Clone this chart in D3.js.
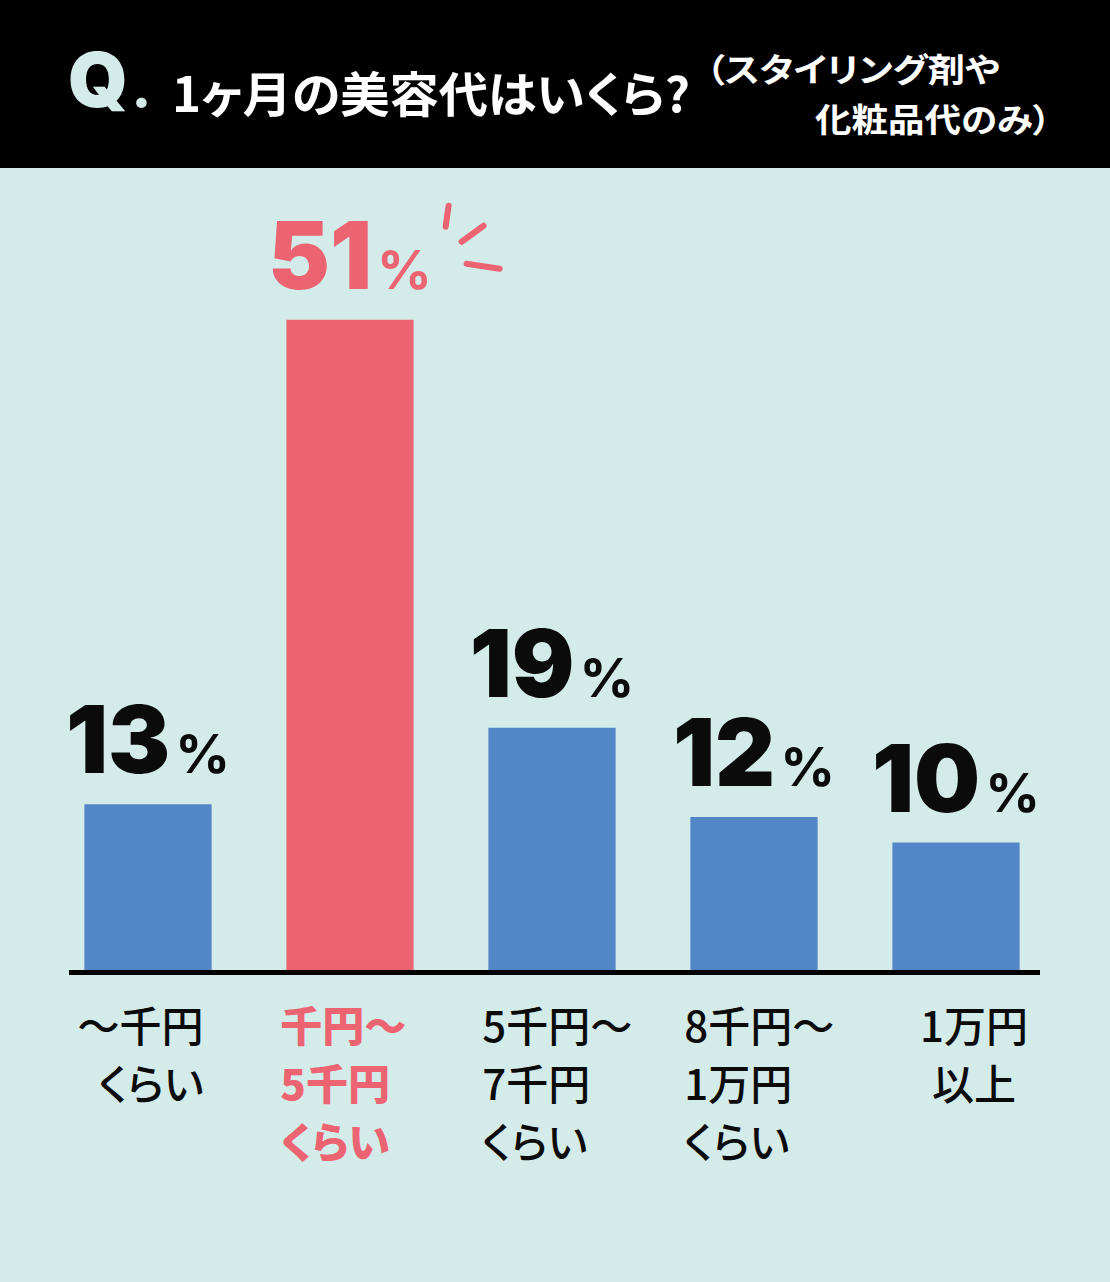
<!DOCTYPE html>
<html lang="ja">
<head>
<meta charset="utf-8">
<title>1ヶ月の美容代はいくら？</title>
<script src="https://cdn.jsdelivr.net/npm/d3@7/dist/d3.min.js"></script>
<style>
  html, body { margin: 0; padding: 0; background: #d4ece9; }
  svg { display: block; }
  .jp { font-family: "Noto Sans CJK JP", "Noto Sans", sans-serif; font-feature-settings: "palt"; }
  .num { font-family: Inter, Roboto, "DejaVu Sans", sans-serif; }
</style>
</head>
<body>
<div id="chart"></div>
<script>
// ---------- data ----------
const TITLE = "1ヶ月の美容代はいくら?";
const SUBTITLE = ["（スタイリング剤や", "化粧品代のみ）"];
const CATEGORIES = ["〜千円くらい", "千円〜5千円くらい", "5千円〜7千円くらい", "8千円〜1万円くらい", "1万円以上"];
const CATEGORY_LINES = [
  ["〜千円", "くらい"],
  ["千円〜", "5千円", "くらい"],
  ["5千円〜", "7千円", "くらい"],
  ["8千円〜", "1万円", "くらい"],
  ["1万円", "以上"],
];
const VALUES = [13, 51, 19, 12, 10];

// ---------- layout ----------
const W = 1110, H = 1282;
const HEADER_H = 168;
const BASE_Y = 970;
const COL = { bg: "#d4ece9", blue: "#5386c6", pink: "#ec6472", ink: "#0b0b0b", mint: "#d4ece9" };

const data = CATEGORIES.map((c, i) => ({ cat: c, lines: CATEGORY_LINES[i], v: VALUES[i] }));
const maxV = d3.max(VALUES);
const isHi = d => d.v === maxV;

const svg = d3.select("#chart").append("svg").attr("width", W).attr("height", H).attr("viewBox", `0 0 ${W} ${H}`);
svg.append("rect").attr("width", W).attr("height", H).attr("fill", COL.bg);

// ---------- header ----------
svg.append("rect").attr("width", W).attr("height", HEADER_H).attr("fill", "#000");
const q = svg.append("text").attr("class", "num").attr("x", 68).attr("y", 107)
  .attr("fill", COL.mint).attr("font-weight", 900);
q.append("tspan").attr("font-size", 76).text("Q");
q.append("tspan").attr("font-size", 52).attr("dx", 4).text(".");

svg.append("text").attr("class", "jp").attr("x", 172).attr("y", 112)
  .attr("fill", "#fff").attr("font-size", 48).attr("font-weight", 700)
  .attr("textLength", 518).attr("lengthAdjust", "spacingAndGlyphs")
  .text(TITLE);

svg.append("text").attr("class", "jp").attr("x", 706).attr("y", 82)
  .attr("fill", "#fff").attr("font-size", 33).attr("font-weight", 700)
  .attr("textLength", 294).attr("lengthAdjust", "spacingAndGlyphs")
  .text(SUBTITLE[0]);
svg.append("text").attr("class", "jp").attr("x", 815).attr("y", 132)
  .attr("fill", "#fff").attr("font-size", 33).attr("font-weight", 700)
  .attr("textLength", 236).attr("lengthAdjust", "spacingAndGlyphs")
  .text(SUBTITLE[1]);

// ---------- scales ----------
const x = d3.scaleBand().domain(CATEGORIES).range([47, 1057]).paddingInner(0.37).paddingOuter(0.185);
const y = d3.scaleLinear().domain([0, 100]).range([BASE_Y, BASE_Y - 1275]);

// ---------- bars ----------
svg.selectAll("rect.bar").data(data).join("rect").attr("class", "bar")
  .attr("x", d => x(d.cat)).attr("width", x.bandwidth())
  .attr("y", d => y(d.v)).attr("height", d => y(0) - y(d.v))
  .attr("fill", d => isHi(d) ? COL.pink : COL.blue);

// baseline
svg.append("line").attr("x1", 69).attr("x2", 1040).attr("y1", BASE_Y + 2.5).attr("y2", BASE_Y + 2.5)
  .attr("stroke", "#000").attr("stroke-width", 5);

// ---------- value labels ----------
const vl = svg.selectAll("text.val").data(data).join("text").attr("class", "val num")
  .attr("x", d => x(d.cat) + x.bandwidth() / 2).attr("y", d => y(d.v) - 31)
  .attr("text-anchor", "middle")
  .attr("fill", d => isHi(d) ? COL.pink : COL.ink);
vl.append("tspan").attr("font-size", 93).attr("font-weight", 900).attr("letter-spacing", 0).text(d => d.v);
vl.append("tspan").attr("font-size", 54).attr("font-weight", 700).attr("dx", 5).text("%");

// burst next to the top value
const hi = data.find(isHi);
const bx = x(hi.cat) + x.bandwidth(), by = y(hi.v);
[[32, -93, 35, -114], [48, -78, 70, -94], [53, -56, 86, -51]].forEach(([a, b, c, e]) => {
  svg.append("line").attr("x1", bx + a).attr("y1", by + b).attr("x2", bx + c).attr("y2", by + e)
    .attr("stroke", COL.pink).attr("stroke-width", 6).attr("stroke-linecap", "round");
});

// ---------- category labels ----------
const ANCHOR = ["end", "start", "start", "start", "middle"];
const labelX = (d, i) => ANCHOR[i] === "end" ? x(d.cat) + x.bandwidth() - 8
  : ANCHOR[i] === "start" ? x(d.cat) - 6 : x(d.cat) + x.bandwidth() / 2 + 18;
const cl = svg.selectAll("text.cat").data(data).join("text").attr("class", "cat jp")
  .attr("text-anchor", (d, i) => ANCHOR[i])
  .attr("font-size", 42)
  .attr("font-weight", d => isHi(d) ? 900 : 500)
  .attr("fill", d => isHi(d) ? COL.pink : COL.ink);
cl.each(function (d, i) {
  d3.select(this).selectAll("tspan").data(d.lines).join("tspan")
    .attr("x", labelX(d, i)).attr("y", (s, j) => 1042 + j * 58).text(s => s);
});
</script>
</body>
</html>
